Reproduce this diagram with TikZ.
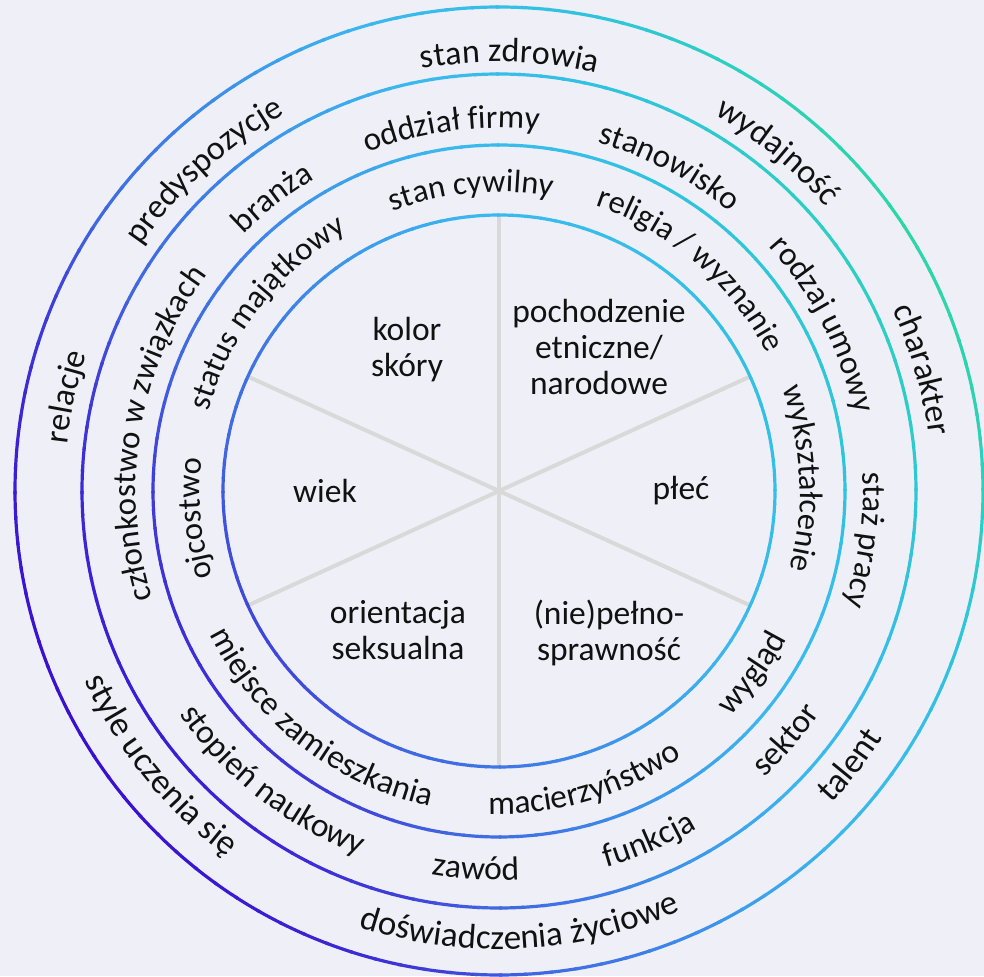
\documentclass[tikz,border=0pt]{standalone}
\usepackage{fontspec}
\setmainfont{Carlito}
\usetikzlibrary{decorations.text}
\definecolor{bgc}{HTML}{EFF0F7}
\definecolor{spokec}{HTML}{D9D9D9}
\definecolor{txtc}{HTML}{111111}
\definecolor{ga}{HTML}{3A10D0}
\definecolor{gb}{HTML}{3C28D5}
\definecolor{gc}{HTML}{3F40D8}
\definecolor{gd}{HTML}{4066E0}
\definecolor{ge}{HTML}{3F7AE6}
\definecolor{gf}{HTML}{3C9CEC}
\definecolor{gg}{HTML}{3CB8EE}
\definecolor{gh}{HTML}{36BEE8}
\definecolor{gi}{HTML}{30C4DC}
\definecolor{gj}{HTML}{2DCEC4}
\definecolor{gk}{HTML}{2CD6A8}
\newcommand\cwtext[4][33]{%
  \pgfmathsetmacro\txsa{#2+70}\pgfmathsetmacro\txea{#2-70}%
  \path[decorate,decoration={text along path,text align=center,text color=txtc,text={|\fontsize{#1}{40}\selectfont|#4}}]
    (\txsa:#3pt) arc[start angle=\txsa,end angle=\txea,radius=#3pt];}
\newcommand\ccwtext[4][33]{%
  \pgfmathsetmacro\txsa{#2-70}\pgfmathsetmacro\txea{#2+70}%
  \path[decorate,decoration={text along path,text align=center,text color=txtc,text={|\fontsize{#1}{40}\selectfont|#4}}]
    (\txsa:#3pt) arc[start angle=\txsa,end angle=\txea,radius=#3pt];}
\tikzset{
  ctext/.style={align=center,inner sep=0pt,text=txtc,font=\fontsize{33.5}{36}\selectfont},
  spokeline/.style={draw=spokec,line width=4pt}
}
\begin{document}
\begin{tikzpicture}[x=1pt,y=1pt]
\fill[bgc] (-499,-485) rectangle (485,491);
\useasboundingbox (-499,-485) rectangle (485,491);
\coordinate (C) at (0,0);
% spokes
\coordinate (s1) at (90:276pt);  \coordinate (s2) at (270:276pt);
\coordinate (s3) at (24.5:276pt); \coordinate (s4) at (204.5:276pt);
\coordinate (s5) at (155.5:276pt); \coordinate (s6) at (335.5:276pt);
\draw[spokeline] (s1) -- (s2);
\draw[spokeline] (s3) -- (s4);
\draw[spokeline] (s5) -- (s6);
% gradient rings
\foreach \rr in {276,346,417,484}{
  \foreach \a in {0,3,...,357}{
    \pgfmathsetmacro\segt{max(-0.999,min(0.999,\rr/484*cos(\a+1.5-30)))}
    \foreach \ta/\tb/\ca/\cb in {-1/-0.75/ga/gb,-0.75/-0.6/gb/gc,-0.6/-0.45/gc/gd,-0.45/-0.25/gd/ge,-0.25/0/ge/gf,0/0.25/gf/gg,0.25/0.5/gg/gh,0.5/0.65/gh/gi,0.65/0.85/gi/gj,0.85/1/gj/gk}{
      \ifdim\segt pt<\tb pt\relax
        \ifdim\segt pt<\ta pt\relax\else
          \pgfmathtruncatemacro\pct{100*((\segt)-(\ta))/((\tb)-(\ta))}
          \draw[draw=\cb!\pct!\ca,line width=3.2pt] (\a:\rr pt) arc[start angle=\a,end angle=\a+3.4,radius=\rr pt];
        \fi
      \fi
    }
  }
}
% center texts
\node[ctext] (kolor) at (-92,141) {kolor\\skóry};
\node[ctext] (pochodzenie) at (100,144) {pochodzenie\\etniczne/\\narodowe};
\node[ctext] (wiek) at (-174,0) {wiek};
\node[ctext] (plec) at (182,0) {płeć};
\node[ctext] (orientacja) at (-101,-139) {orientacja\\seksualna};
\node[ctext] (niepelno) at (110,-142) {(nie)pełno-\\sprawność};
% ring 1
\cwtext[32.5]{95.3}{299}{stan cywilny}
\cwtext[32.5]{49.2}{301}{religia / wyznanie}
\cwtext[32.5]{2.4}{301}{wykształcenie}
\ccwtext[33.5]{-35.7}{323}{wygląd}
\ccwtext[33.5]{-73.7}{323}{macierzyństwo}
\ccwtext[33.5]{232}{323}{miejsce zamieszkania}
\cwtext[32.5]{185.2}{299}{ojcostwo}
\cwtext[32.5]{142.5}{301}{status majątkowy}
% ring 2
\cwtext[33]{97.5}{363}{oddział firmy}
\cwtext[33]{62.3}{362}{stanowisko}
\cwtext[33]{27.2}{364}{rodzaj umowy}
\cwtext[33]{-7.6}{364}{staż pracy}
\ccwtext[33.5]{-40.9}{390}{sektor}
\ccwtext[33.5]{-66.8}{391}{funkcja}
\ccwtext[33.5]{-93.5}{389}{zawód}
\ccwtext[33.5]{232}{390}{stopień naukowy}
\cwtext[33]{170.3}{363}{członkostwo w związkach}
\cwtext[33]{127.7}{362}{branża}
% ring 3
\cwtext[34]{88.6}{429}{stan zdrowia}
\cwtext[34]{50.6}{433}{wydajność}
\cwtext[34]{16}{433}{charakter}
\ccwtext[35]{-38}{456}{talent}
\ccwtext[35]{-87.2}{458}{doświadczenia życiowe}
\ccwtext[35]{219}{456}{style uczenia się}
\cwtext[34]{167.7}{434}{relacje}
\cwtext[34]{132.6}{434}{predyspozycje}
\end{tikzpicture}
\end{document}
